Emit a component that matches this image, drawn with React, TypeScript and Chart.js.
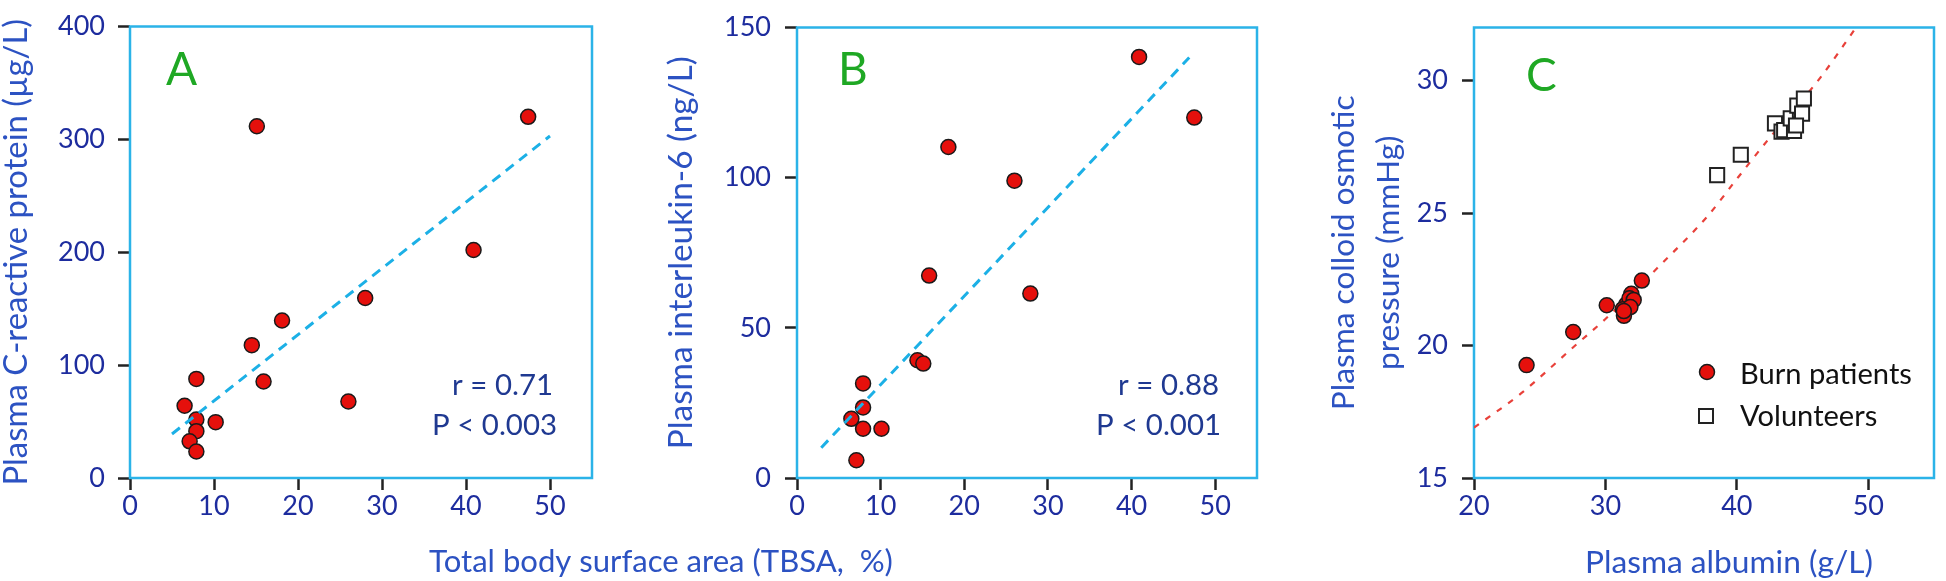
import React, { useEffect, useRef } from 'react';
import { Chart, registerables } from 'chart.js';

Chart.register(...registerables);

const W = 1946;
const H = 581;
const FONT = 'Lato, "Open Sans", sans-serif';

// ---------- Panel A: CRP vs TBSA ----------
const tbsaA = [15.1, 47.4, 40.9, 28.0, 18.1, 14.5, 15.9, 7.9, 6.5, 7.9, 10.2, 7.9, 7.1, 7.9, 26.0];
const crpA = [311.6, 320, 202, 159.5, 139.5, 117.7, 85.5, 87.8, 64, 51.8, 49.5, 41.5, 32.5, 23.5, 67.8];
const fitAX = [5, 50];
const fitAY = [39, 303];

// ---------- Panel B: IL-6 vs TBSA ----------
const tbsaB = [40.9, 47.5, 18.1, 26.0, 15.8, 27.9, 14.4, 15.1, 7.9, 7.9, 6.5, 7.9, 10.1, 7.1];
const il6B = [140.2, 120, 110.2, 99, 67.4, 61.4, 39.2, 38.1, 31.5, 23.5, 19.7, 16.4, 16.4, 5.9];
const fitBX = [2.9, 46.9];
const fitBY = [10.1, 140];

// ---------- Panel C: COP vs albumin ----------
const albBurn = [24.0, 27.55, 30.1, 32.77, 31.97, 31.41, 31.57, 31.83, 32.15, 31.32, 31.9, 31.4];
const copBurn = [19.26, 20.51, 21.52, 22.45, 21.95, 21.12, 21.54, 21.78, 21.72, 21.37, 21.45, 21.3];
const albVol = [38.5, 40.3, 42.9, 43.4, 43.6, 44.35, 44.1, 44.8, 44.6, 45.1, 44.96, 44.5];
const copVol = [26.43, 27.2, 28.38, 28.07, 28.13, 28.1, 28.57, 28.87, 29.05, 29.32, 28.75, 28.3];
const curveCX = [20, 23.6, 27.7, 30, 34.1, 37.75, 40.1, 42.35, 46.34, 49.0];
const curveCY = [16.9, 18.2, 20.0, 21.0, 23.0, 24.87, 26.35, 27.75, 30.1, 31.95];

// ---------- Text ----------
const xTitleAB = 'Total body surface area (TBSA,  %)';
const xTitleC = 'Plasma albumin (g/L)';
const yTitleA = 'Plasma C-reactive protein (µg/L)';
const yTitleB = 'Plasma interleukin-6 (ng/L)';
const yTitleC = ['Plasma colloid osmotic', 'pressure (mmHg)'];
const statsA = ['r = 0.71', 'P < 0.003'];
const statsB = ['r = 0.88', 'P < 0.001'];
const legendLabels = ['Burn patients', 'Volunteers'];

// ---------- Styles ----------
const BOX = '#2bb3e8';
const FIT_BLUE = '#1cb0e6';
const CURVE_RED = '#e8413a';
const RED = '#e5100c';
const TICK_TXT = '#1d2c9e';
const TITLE_TXT = '#2c52c2';
const STAT_TXT = '#1f3991';
const GREEN = '#1fa824';

const pts = (xs: number[], ys: number[]) => xs.map((x, i) => ({ x, y: ys[i] }));

// font size that makes `text` span `target` pixels
function fitFont(text: string, target: number): number {
  const c = document.createElement('canvas').getContext('2d')!;
  c.font = `100px ${FONT}`;
  const w = c.measureText(text).width;
  return (100 * target) / w;
}

type TextItem = { text: string; x: number; y: number; size: number; color: string; align: CanvasTextAlign };

function decor(texts: TextItem[], legendSize?: number) {
  return {
    id: 'decor',
    beforeDatasetsDraw(chart: any) {
      const { ctx, chartArea: a } = chart;
      ctx.save();
      ctx.strokeStyle = BOX;
      ctx.lineWidth = 2.5;
      ctx.strokeRect(a.left, a.top, a.right - a.left, a.bottom - a.top);
      ctx.restore();
    },
    afterDraw(chart: any) {
      const { ctx } = chart;
      ctx.save();
      for (const t of texts) {
        ctx.font = `${t.size}px ${FONT}`;
        ctx.fillStyle = t.color;
        ctx.textAlign = t.align;
        ctx.textBaseline = 'alphabetic';
        ctx.fillText(t.text, t.x, t.y);
      }
      if (legendSize) {
        ctx.beginPath();
        ctx.arc(1707, 372, 7.5, 0, Math.PI * 2);
        ctx.fillStyle = RED;
        ctx.fill();
        ctx.lineWidth = 1.5;
        ctx.strokeStyle = '#1a1a1a';
        ctx.stroke();
        ctx.fillStyle = '#fff';
        ctx.fillRect(1699, 409, 14, 14);
        ctx.lineWidth = 2;
        ctx.strokeStyle = '#222';
        ctx.strokeRect(1699, 409, 14, 14);
        ctx.font = `${legendSize}px ${FONT}`;
        ctx.fillStyle = '#111';
        ctx.textAlign = 'left';
        ctx.fillText(legendLabels[0], 1740, 384);
        ctx.fillText(legendLabels[1], 1740, 426);
      }
      ctx.restore();
    },
  };
}

function xScale(min: number, max: number, step: number) {
  return {
    type: 'linear',
    position: 'bottom',
    min,
    max,
    ticks: {
      stepSize: step,
      includeBounds: false,
      padding: 0,
      color: TICK_TXT,
      font: { family: FONT, size: 27, lineHeight: 1.2 },
    },
    grid: { drawOnChartArea: false, drawTicks: true, tickLength: 12, tickColor: '#222', tickWidth: 2.5 },
    border: { display: false },
    afterFit: (s: any) => {
      s.height = 103;
    },
  };
}

function yScale(
  min: number,
  max: number,
  step: number,
  width: number,
  pad: number,
  title: string | string[],
  titlePad: number,
  lh: string,
  size: number
) {
  return {
    type: 'linear',
    position: 'left',
    min,
    max,
    ticks: {
      stepSize: step,
      includeBounds: false,
      padding: pad,
      color: TICK_TXT,
      font: { family: FONT, size: 27, lineHeight: 1 },
    },
    grid: { drawOnChartArea: false, drawTicks: true, tickLength: 12, tickColor: '#222', tickWidth: 2.5 },
    border: { display: false },
    title: {
      display: true,
      text: title,
      color: TITLE_TXT,
      font: { family: FONT, size, lineHeight: lh },
      padding: { top: titlePad, bottom: 0 },
    },
    afterFit: (s: any) => {
      s.width = width;
    },
  };
}

const pointStyle = {
  pointRadius: 7.5,
  pointBackgroundColor: RED,
  pointBorderColor: '#1a1a1a',
  pointBorderWidth: 1.5,
  showLine: false,
};

function baseOptions(padLeft: number, padRight: number, scales: any) {
  return {
    responsive: false,
    animation: false,
    events: [],
    layout: { padding: { left: padLeft, right: padRight, top: 17, bottom: 0 } },
    plugins: { legend: { display: false }, tooltip: { enabled: false } },
    scales,
  };
}

function configA(): any {
  const statSize = fitFont(statsA[1], 125);
  return {
    type: 'scatter',
    data: {
      datasets: [
        { data: pts(fitAX, fitAY), showLine: true, borderColor: FIT_BLUE, borderWidth: 3, borderDash: [10, 7], pointRadius: 0 },
        { data: pts(tbsaA, crpA), ...pointStyle },
      ],
    },
    options: baseOptions(0, W - 592, {
      x: xScale(0, 55, 10),
      y: yScale(0, 400, 100, 130, 13, yTitleA, 0, '32px', fitFont(yTitleA, 467)),
    }),
    plugins: [
      decor([
        { text: 'A', x: 166, y: 85, size: 46, color: GREEN, align: 'left' },
        { text: statsA[0], x: 553, y: 395, size: statSize, color: STAT_TXT, align: 'right' },
        { text: statsA[1], x: 557, y: 435, size: statSize, color: STAT_TXT, align: 'right' },
        { text: xTitleAB, x: 661, y: 572, size: fitFont(xTitleAB, 464), color: TITLE_TXT, align: 'center' },
      ]),
    ],
  };
}

function configB(): any {
  const statSize = fitFont(statsA[1], 125);
  return {
    type: 'scatter',
    data: {
      datasets: [
        { data: pts(fitBX, fitBY), showLine: true, borderColor: FIT_BLUE, borderWidth: 3, borderDash: [10, 7], pointRadius: 0 },
        { data: pts(tbsaB, il6B), ...pointStyle },
      ],
    },
    options: baseOptions(665, W - 1257, {
      x: xScale(0, 55, 10),
      y: yScale(0, 150, 50, 132, 14, yTitleB, 0, '32px', fitFont(yTitleB, 393)),
    }),
    plugins: [
      decor([
        { text: 'B', x: 838, y: 85, size: 46, color: GREEN, align: 'left' },
        { text: statsB[0], x: 1219, y: 395, size: statSize, color: STAT_TXT, align: 'right' },
        { text: statsB[1], x: 1221, y: 435, size: statSize, color: STAT_TXT, align: 'right' },
      ]),
    ],
  };
}

function configC(): any {
  const titleSize = Math.min(fitFont(yTitleC[0], 315), fitFont(yTitleC[1], 240));
  return {
    type: 'scatter',
    data: {
      datasets: [
        { data: pts(albBurn, copBurn), ...pointStyle },
        {
          data: pts(albVol, copVol),
          pointStyle: 'rect',
          pointRadius: 10,
          pointBackgroundColor: '#ffffff',
          pointBorderColor: '#222',
          pointBorderWidth: 2,
          showLine: false,
        },
        {
          data: pts(curveCX, curveCY),
          showLine: true,
          borderColor: CURVE_RED,
          borderWidth: 2.2,
          borderDash: [6, 8],
          pointRadius: 0,
          tension: 0.4,
          cubicInterpolationMode: 'monotone',
        },
      ],
    },
    options: baseOptions(1300, 3, {
      x: xScale(20, 55, 10),
      y: yScale(15, 32, 5, 174, 14, yTitleC, 21.5, '45px', titleSize),
    }),
    plugins: [
      decor(
        [
          { text: 'C', x: 1526, y: 91, size: 46, color: GREEN, align: 'left' },
          { text: xTitleC, x: 1729, y: 573, size: fitFont(xTitleC, 288), color: TITLE_TXT, align: 'center' },
        ],
        fitFont(legendLabels[0], 172)
      ),
    ],
  };
}

export default function App() {
  const refA = useRef<HTMLCanvasElement>(null);
  const refB = useRef<HTMLCanvasElement>(null);
  const refC = useRef<HTMLCanvasElement>(null);

  useEffect(() => {
    const charts = [
      new Chart(refA.current!, configA()),
      new Chart(refB.current!, configB()),
      new Chart(refC.current!, configC()),
    ];
    return () => charts.forEach((c) => c.destroy());
  }, []);

  const cs: React.CSSProperties = { position: 'absolute', left: 0, top: 0, width: W, height: H };
  return (
    <div style={{ position: 'absolute', left: 0, top: 0, width: W, height: H, background: '#fff' }}>
      <canvas ref={refA} width={W} height={H} style={cs} />
      <canvas ref={refB} width={W} height={H} style={cs} />
      <canvas ref={refC} width={W} height={H} style={cs} />
    </div>
  );
}
